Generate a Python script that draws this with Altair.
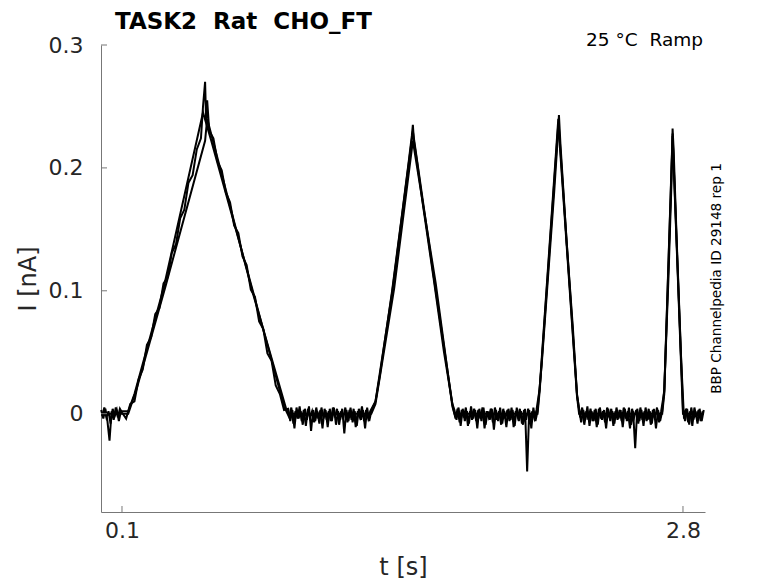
import altair as alt
import pandas as pd

# ---------------- data ----------------
# baseline segments: start time [s], values [nA] every 0.01 s (sweep A)
seg_starts = [0.00, 0.90, 1.70, 2.30, 2.80]
seg0 = [0.003, -0.004, 0.004, -0.006, -0.022, 0.002, -0.005, 0.005, -0.003, 0.004, 0.001]
seg1 = [0.004, -0.006, 0.003, -0.012, 0.005, -0.004, 0.002, -0.009, 0.004, -0.005,
        0.006, -0.014, 0.003, -0.006, 0.002, -0.008, 0.005, -0.004, 0.003, -0.011,
        0.004, -0.006, 0.005, -0.009, 0.002, -0.005, 0.004, -0.016, 0.003, -0.006,
        0.005, -0.007, 0.002, -0.010, 0.004, -0.005, 0.003, -0.012, 0.005, -0.006,
        0.002]
seg2 = [0.003, -0.005, 0.005, -0.010, 0.004, -0.006, 0.002, -0.008, 0.006, -0.004,
        0.003, -0.012, 0.004, -0.006, 0.005, -0.009, 0.002, -0.005, 0.004, -0.013,
        0.003, -0.006, 0.005, -0.008, 0.002, -0.011, 0.004, -0.005, 0.003, -0.010,
        0.005, -0.006, 0.002, -0.009, 0.004, -0.047, 0.003, -0.012, 0.005, -0.006,
        0.002]
seg3 = [0.004, -0.007, 0.003, -0.005, 0.006, -0.010, 0.002, -0.006, 0.004, -0.009,
        0.005, -0.005, 0.003, -0.012, 0.004, -0.006, 0.002, -0.008, 0.005, -0.004,
        0.003, -0.011, 0.004, -0.006, 0.005, -0.009, 0.002, -0.028, 0.004, -0.006,
        0.003, -0.010, 0.005, -0.005, 0.002, -0.008, 0.004, -0.012, 0.003, -0.006,
        0.002]
seg4 = [0.003, -0.006, 0.004, -0.009, 0.005, -0.005, 0.002, -0.008, 0.004, -0.006, 0.003]
seg_values = [seg0, seg1, seg2, seg3, seg4]
seg_step = 0.01

# baseline noise of sweep B, sampled half a step later
segB_starts = [0.005, 0.905, 1.705, 2.305, 2.805]
segB0 = [-0.002, 0.005, -0.003, 0.002, -0.008, 0.004, -0.002, 0.003, -0.006, 0.002]
segB1 = [-0.003, 0.005, -0.008, 0.002, -0.004, 0.006, -0.006, 0.003, -0.010, 0.004,
         -0.003, 0.002, -0.007, 0.005, -0.004, 0.003, -0.012, 0.004, -0.005, 0.002,
         -0.006, 0.005, -0.003, 0.004, -0.009, 0.002, -0.004, 0.005, -0.007, 0.003,
         -0.005, 0.004, -0.011, 0.002, -0.003, 0.006, -0.006, 0.003, -0.004, 0.002]
segB2 = [-0.004, 0.004, -0.007, 0.003, -0.003, 0.005, -0.010, 0.002, -0.005, 0.004,
         -0.006, 0.003, -0.004, 0.005, -0.012, 0.002, -0.003, 0.004, -0.007, 0.005,
         -0.005, 0.002, -0.009, 0.004, -0.004, 0.003, -0.006, 0.005, -0.011, 0.002,
         -0.003, 0.004, -0.008, 0.003, -0.005, 0.004, -0.006, 0.002, -0.004, 0.003]
segB3 = [-0.003, 0.005, -0.009, 0.002, -0.005, 0.004, -0.006, 0.003, -0.011, 0.004,
         -0.004, 0.002, -0.007, 0.005, -0.003, 0.004, -0.010, 0.002, -0.005, 0.003,
         -0.006, 0.005, -0.004, 0.002, -0.012, 0.004, -0.003, 0.003, -0.008, 0.005,
         -0.005, 0.002, -0.006, 0.004, -0.009, 0.003, -0.004, 0.005, -0.007, 0.002]
segB4 = [-0.004, 0.004, -0.007, 0.002, -0.010, 0.005, -0.003, 0.003, -0.006, 0.002]
segB_values = [segB0, segB1, segB2, segB3, segB4]

# ramp sections of sweep A (t [s], I [nA])
ramp1_t = [0.12, 0.14, 0.16, 0.18, 0.20, 0.22, 0.24, 0.26, 0.28, 0.30, 0.32, 0.34, 0.36,
           0.38, 0.40, 0.42, 0.44, 0.46, 0.48, 0.49, 0.50, 0.505, 0.51, 0.52, 0.54, 0.56,
           0.58, 0.60, 0.62, 0.64, 0.66, 0.68, 0.70, 0.72, 0.74, 0.76, 0.78, 0.80, 0.82,
           0.84, 0.86, 0.88]
ramp1_i = [-0.004, 0.008, 0.010, 0.028, 0.036, 0.056, 0.062, 0.081, 0.086, 0.106, 0.111,
           0.131, 0.138, 0.159, 0.166, 0.188, 0.194, 0.215, 0.224, 0.250, 0.270, 0.238,
           0.255, 0.230, 0.224, 0.205, 0.198, 0.180, 0.172, 0.153, 0.147, 0.128, 0.121,
           0.101, 0.095, 0.075, 0.069, 0.049, 0.043, 0.023, 0.016, 0.003]
ramp2_t = [1.32, 1.34, 1.40, 1.45, 1.48, 1.495, 1.50, 1.505, 1.52, 1.55, 1.60, 1.65, 1.69]
ramp2_i = [0.010, 0.030, 0.100, 0.165, 0.205, 0.226, 0.235, 0.222, 0.205, 0.168, 0.110, 0.050, 0.008]
ramp3_t = [2.12, 2.15, 2.18, 2.20, 2.203, 2.21, 2.24, 2.27, 2.29]
ramp3_i = [0.040, 0.110, 0.180, 0.232, 0.243, 0.220, 0.140, 0.070, 0.015]
ramp4_t = [2.71, 2.73, 2.745, 2.75, 2.755, 2.77, 2.79]
ramp4_i = [0.020, 0.110, 0.190, 0.232, 0.215, 0.140, 0.050]
ramps_t = [ramp1_t, ramp2_t, ramp3_t, ramp4_t]
ramps_i = [ramp1_i, ramp2_i, ramp3_i, ramp4_i]

# ramp vertices of sweeps B and C
rampB_t = [[0.13, 0.16, 0.30, 0.49, 0.53, 0.72, 0.88], [1.32, 1.40, 1.50, 1.60, 1.69],
           [2.11, 2.20, 2.29], [2.71, 2.75, 2.79]]
rampB_i = [[0.002, 0.016, 0.102, 0.245, 0.222, 0.106, 0.006], [0.010, 0.098, 0.230, 0.112, 0.008],
           [0.020, 0.240, 0.016], [0.018, 0.228, 0.048]]
rampC_t = [[0.13, 0.17, 0.31, 0.50, 0.51, 0.73, 0.89], [1.32, 1.41, 1.50, 1.61, 1.69],
           [2.11, 2.20, 2.29], [2.71, 2.75, 2.79]]
rampC_i = [[0.000, 0.020, 0.104, 0.222, 0.240, 0.098, 0.004], [0.008, 0.102, 0.222, 0.106, 0.006],
           [0.018, 0.236, 0.014], [0.016, 0.226, 0.044]]
sweepC_base_t = [0.00, 0.10, 0.90, 1.30, 1.70, 2.10, 2.30, 2.70, 2.80, 2.90]

x_ticks = [0.1, 2.8]
y_ticks = [0.0, 0.1, 0.2, 0.3]

title_text = "TASK2\u00a0\u00a0Rat\u00a0\u00a0CHO_FT"
cond_text = "25\u00a0°C\u00a0\u00a0Ramp"
side_text = "BBP Channelpedia ID 29148 rep 1"

# ---------------- build tables ----------------
rows = []


def add(sweep, t, i):
    rows.append({"t": t, "I": i, "sweep": sweep, "o": len(rows)})


for k in range(5):
    for j, v in enumerate(seg_values[k]):
        add("A", round(seg_starts[k] + j * seg_step, 4), v)
    if k < 4:
        for tt, ii in zip(ramps_t[k], ramps_i[k]):
            add("A", tt, ii)
for k in range(5):
    for j, v in enumerate(segB_values[k]):
        add("B", round(segB_starts[k] + j * seg_step, 4), v)
    if k < 4:
        for tt, ii in zip(rampB_t[k], rampB_i[k]):
            add("B", tt, ii)
for k in range(5):
    add("C", sweepC_base_t[2 * k], 0.0)
    add("C", sweepC_base_t[2 * k + 1], 0.0)
    if k < 4:
        for tt, ii in zip(rampC_t[k], rampC_i[k]):
            add("C", tt, ii)
df = pd.DataFrame(rows)

W, H = 604, 467
FONT = "DejaVu Sans"
AX = "#262626"
GRAY = "#777777"

xs = alt.Scale(domain=[-0.001, 2.906], nice=False, zero=False)
ys = alt.Scale(domain=[-0.08, 0.3], nice=False, zero=False)

lines = alt.Chart(df).mark_line(color="black", strokeWidth=2.0).encode(
    x=alt.X("t:Q", scale=xs, title="t [s]",
            axis=alt.Axis(values=x_ticks, format=".1f", tickSize=0, grid=False,
                          labelFontSize=22, titleFontSize=24, titleFontWeight="normal",
                          labelPadding=8, titlePadding=14, domainColor=GRAY,
                          labelColor=AX, titleColor=AX, labelFont=FONT, titleFont=FONT)),
    y=alt.Y("I:Q", scale=ys, title="I [nA]",
            axis=alt.Axis(values=y_ticks, tickSize=0, grid=False,
                          labelExpr="datum.value == 0 ? '0' : format(datum.value, '.1f')",
                          labelFontSize=22, titleFontSize=24, titleFontWeight="normal",
                          labelPadding=18, titlePadding=8, domainColor=GRAY,
                          labelColor=AX, titleColor=AX, labelFont=FONT, titleFont=FONT)),
    detail="sweep:N",
    order="o:Q",
)

xt = alt.Chart(pd.DataFrame({"t": x_ticks})).mark_rule(color=GRAY, strokeWidth=1).encode(
    x=alt.X("t:Q", scale=xs), y=alt.value(H), y2=alt.value(H - 6))
yt = alt.Chart(pd.DataFrame({"I": y_ticks})).mark_rule(color=GRAY, strokeWidth=1).encode(
    y=alt.Y("I:Q", scale=ys), x=alt.value(0), x2=alt.value(6))

ttl = alt.Chart(pd.DataFrame({"s": [title_text]})).mark_text(
    font=FONT, fontSize=23, fontWeight="bold", align="left", baseline="alphabetic",
    color="black").encode(text="s:N", x=alt.value(14), y=alt.value(-16))
cond = alt.Chart(pd.DataFrame({"s": [cond_text]})).mark_text(
    font=FONT, fontSize=18.5, align="right", baseline="middle", color="black").encode(
    text="s:N", x=alt.value(W - 2), y=alt.value(-5))
side = alt.Chart(pd.DataFrame({"s": [side_text]})).mark_text(
    font=FONT, fontSize=13.6, align="center", baseline="middle", angle=270, color="black").encode(
    text="s:N", x=alt.value(W + 12), y=alt.value(H / 2))

chart = alt.layer(lines, xt, yt, ttl, cond, side).properties(
    width=W, height=H,
    padding={"left": 93, "top": 37, "right": 65, "bottom": 68},
    autosize="none",
).configure_view(stroke=None)

chart.save("out.html", embed_options={"renderer": "svg", "actions": False})
